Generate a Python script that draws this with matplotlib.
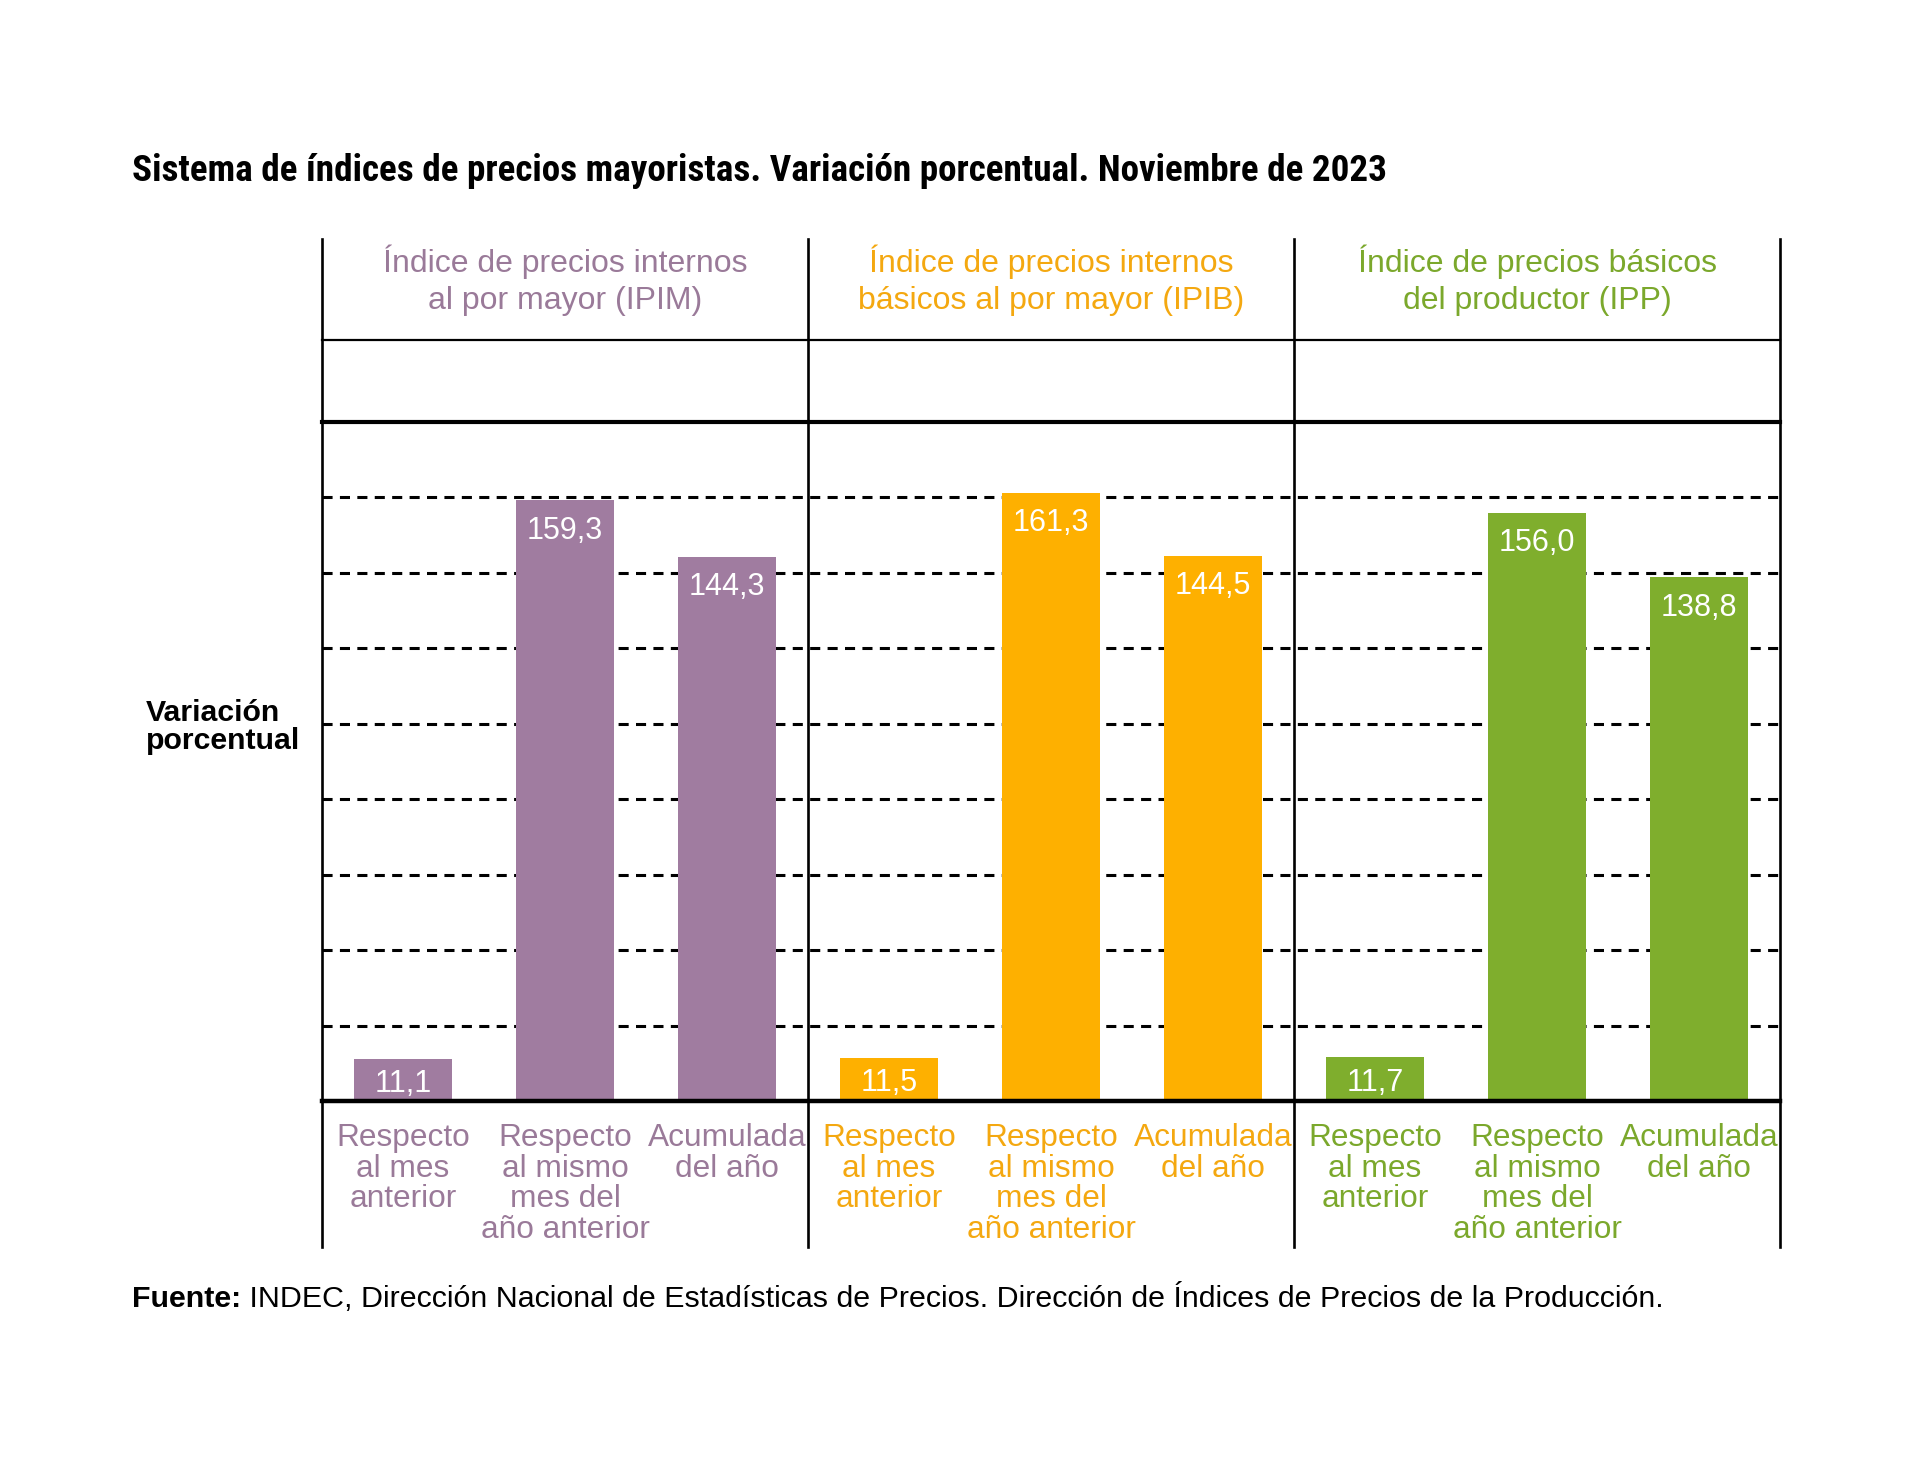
import matplotlib
matplotlib.use("Agg")
import matplotlib.pyplot as plt
from matplotlib import font_manager
import matplotlib.transforms as mtransforms

# ---------------- data ----------------
groups = ["Índice de precios internos\nal por mayor (IPIM)",
          "Índice de precios internos\nbásicos al por mayor (IPIB)",
          "Índice de precios básicos\ndel productor (IPP)"]
categories = ["Respecto\nal mes\nanterior",
              "Respecto\nal mismo\nmes del\naño anterior",
              "Acumulada\ndel año"]
ipim = [11.1, 159.3, 144.3]
ipib = [11.5, 161.3, 144.5]
ipp = [11.7, 156.0, 138.8]
series = [ipim, ipib, ipp]
colors = ["#A07CA0", "#FEB000", "#7FAE2D"]
text_colors = ["#9A7A99", "#F4A810", "#7BA82C"]
gridlines = [20, 40, 60, 80, 100, 120, 140, 160]
ymax = 180

title = "Sistema de índices de precios mayoristas. Variación porcentual. Noviembre de 2023"
ylabel = "Variación\nporcentual"
source_bold = "Fuente:"
source_rest = " INDEC, Dirección Nacional de Estadísticas de Precios. Dirección de Índices de Precios de la Producción."

# ---------------- fonts ----------------
fl = font_manager.fontManager.ttflist
names = {f.name for f in fl}
base = "Liberation Sans" if "Liberation Sans" in names else "DejaVu Sans"
plt.rcParams["font.family"] = [base, "DejaVu Sans"]

title_kw = dict(fontweight="bold", family=[base, "DejaVu Sans"])
for cand in ["Roboto Condensed", "Liberation Sans Narrow", "Open Sans Condensed",
             "Arial Narrow", "Noto Sans Condensed"]:
    if cand in names:
        title_kw = dict(fontweight="bold", family=[cand, "DejaVu Sans"])
        break

W, H = 1920, 1461
fig = plt.figure(figsize=(W / 100, H / 100), dpi=100)
fig.patch.set_facecolor("white")

x0, x1 = 322, 1780
y_zero, y_top = 1101, 422
ax = fig.add_axes([x0 / W, (H - y_zero) / H, (x1 - x0) / W, (y_zero - y_top) / H])
ax.set_xlim(0, 9)
ax.set_ylim(0, ymax)
ax.axis("off")

ah = y_zero - y_top
def fy(px):
    return (y_zero - px) / ah

trans = mtransforms.blended_transform_factory(ax.transData, ax.transAxes)

# dashed grid lines
for g in gridlines:
    ax.axhline(g, color="black", lw=2.2, linestyle=(0, (3.3, 2.4)), zorder=1)

# solid top line and baseline
ax.axhline(ymax, color="black", lw=3.0, zorder=3, clip_on=False)
ax.axhline(0, color="black", lw=3.2, zorder=3, clip_on=False)
# header separator
ax.plot([0, 9], [fy(340), fy(340)], transform=trans, color="black", lw=1.6, clip_on=False)

# vertical separators
for xv in [0, 3, 6, 9]:
    ax.plot([xv, xv], [fy(1247), fy(239)], transform=trans, color="black", lw=1.9,
            clip_on=False, zorder=3)

# bars
bar_w = 0.6
for gi, vals in enumerate(series):
    xs = [gi * 3 + i + 0.5 for i in range(len(vals))]
    ax.bar(xs, vals, width=bar_w, color=colors[gi], zorder=2)
    for ci, (x, v) in enumerate(zip(xs, vals)):
        lab = f"{v:.1f}".replace(".", ",")
        if v > 30:
            ax.annotate(lab, (x, v), xytext=(0, -22), textcoords="offset points",
                        ha="center", va="center", color="white", fontsize=22, zorder=4)
        else:
            ax.annotate(lab, (x, v / 2), xytext=(0, -3), textcoords="offset points",
                        ha="center", va="center", color="white", fontsize=22, zorder=4)
        ax.text(x, fy(1123), categories[ci], transform=trans, ha="center", va="top",
                color=text_colors[gi], fontsize=22.8, linespacing=1.03)
    ax.text(gi * 3 + 1.5, fy(280), groups[gi], transform=trans, ha="center",
            va="center", color=text_colors[gi], fontsize=23, linespacing=1.3)

# y label
fig.text(146 / W, 1 - 727 / H, ylabel, ha="left", va="center", fontsize=21.8,
         fontweight="bold", linespacing=0.97)

# title, fitted to width
renderer = fig.canvas.get_renderer()
t = fig.text(132 / W, 1 - 181 / H, title, ha="left", va="baseline",
             fontsize=30, **title_kw)
bb = t.get_window_extent(renderer)
t.set_fontsize(30 * 1254 / bb.width)

# source line
s1 = fig.text(132 / W, 1 - 1307 / H, source_bold, ha="left", va="baseline",
              fontsize=20, fontweight="bold")
s2 = fig.text(0, 0, source_rest, fontsize=20)
fig.canvas.draw()
w_total = s1.get_window_extent(renderer).width + s2.get_window_extent(renderer).width
scale = 1530 / w_total
s1.set_fontsize(20 * scale)
s2.remove()
ax.annotate(source_rest, xy=(1, 0), xycoords=s1, ha="left", va="bottom",
            fontsize=20 * scale, annotation_clip=False)

fig.savefig("out.png", dpi=100, facecolor="white")
